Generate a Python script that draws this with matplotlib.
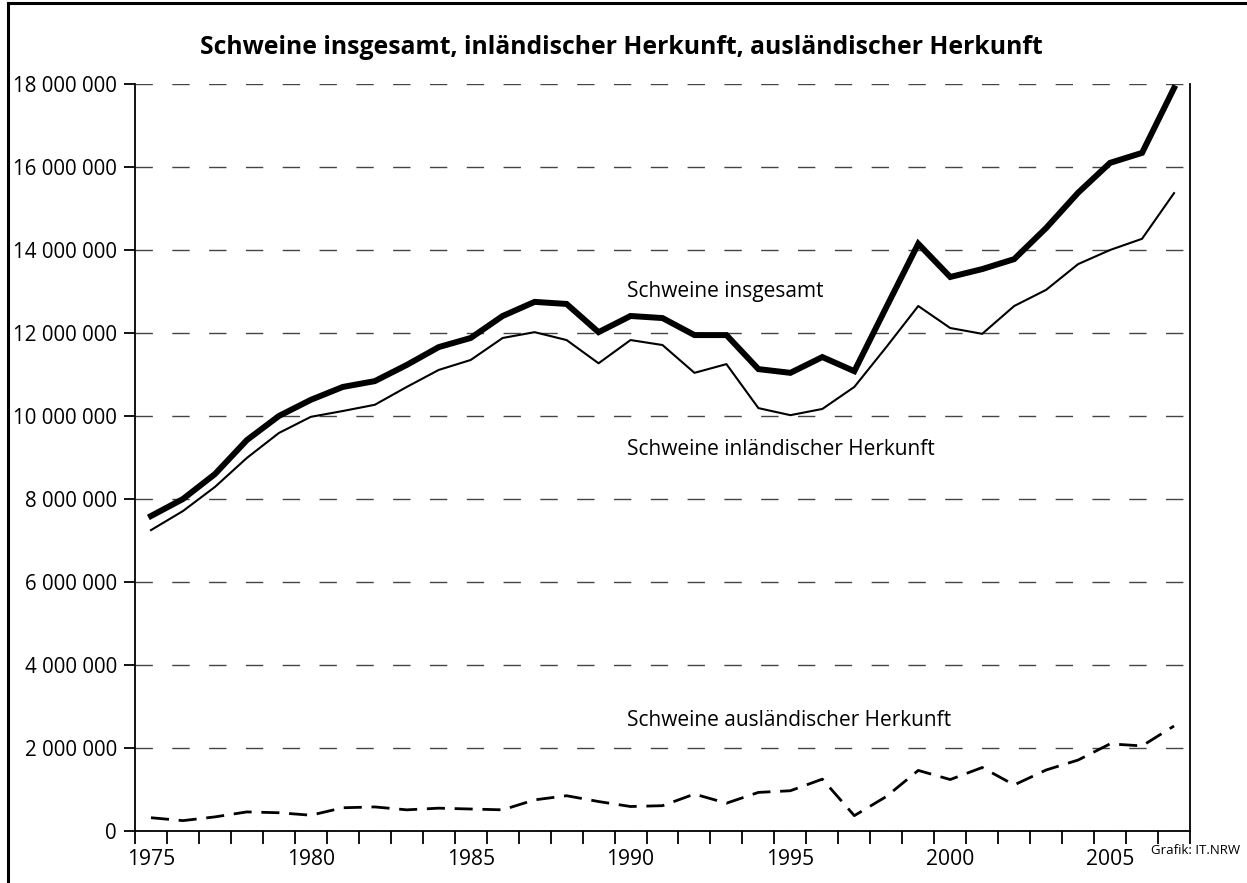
import matplotlib.pyplot as plt
from matplotlib.ticker import FuncFormatter, MultipleLocator
import numpy as np

years = list(range(1975, 2008))

insgesamt = [7.59, 8.00, 8.60, 9.42, 10.00, 10.39, 10.70, 10.84, 11.23, 11.66,
             11.88, 12.41, 12.75, 12.70, 12.02, 12.41, 12.36, 11.95, 11.95, 11.13,
             11.04, 11.42, 11.08, 12.62, 14.15, 13.35, 13.54, 13.78, 14.53, 15.38,
             16.10, 16.34, 17.90]
inland = [7.25, 7.71, 8.29, 8.99, 9.59, 9.98, 10.12, 10.27, 10.70, 11.11,
          11.35, 11.88, 12.02, 11.83, 11.27, 11.83, 11.71, 11.04, 11.25, 10.19,
          10.02, 10.17, 10.70, 11.66, 12.65, 12.12, 11.98, 12.65, 13.04, 13.66,
          14.00, 14.27, 15.37]
ausland = [0.32, 0.25, 0.34, 0.46, 0.44, 0.38, 0.56, 0.58, 0.51, 0.55,
           0.53, 0.51, 0.75, 0.85, 0.71, 0.59, 0.61, 0.89, 0.67, 0.93,
           0.97, 1.25, 0.37, 0.83, 1.46, 1.24, 1.53, 1.11, 1.47, 1.71,
           2.10, 2.05, 2.53]

label_years = [1975, 1980, 1985, 1990, 1995, 2000, 2005]

plt.rcParams['font.family'] = ['Open Sans', 'DejaVu Sans']

fig = plt.figure(figsize=(12.47, 8.83), dpi=100)
ax = fig.add_axes([135 / 1247, 1 - 831 / 883, (1190 - 135) / 1247, (831 - 84) / 883])

x = np.arange(len(years))
m = 1e6
ax.plot(x, np.array(insgesamt) * m, color='black', lw=4.3, solid_joinstyle='miter')
ax.plot(x, np.array(inland) * m, color='black', lw=1.5)
ax.plot(x, np.array(ausland) * m, color='black', lw=2.0, dashes=(6.5, 3.5))

ax.set_xlim(-0.5, len(years) - 0.5)
ax.set_ylim(0, 18e6)

# category axis: ticks between the years, labels every five years
ax.set_xticks(np.arange(-0.5, len(years), 1.0))
ax.set_xticklabels([])
ax.set_xticks([years.index(y) for y in label_years], minor=True)
ax.set_xticklabels([str(y) for y in label_years], minor=True, fontsize=15.2)
ax.tick_params(axis='x', which='major', direction='out', length=9, width=1.3)
ax.tick_params(axis='x', which='minor', length=0, pad=13)

ax.yaxis.set_major_locator(MultipleLocator(2e6))
ax.yaxis.set_major_formatter(FuncFormatter(lambda v, p: f'{int(v):,}'.replace(',', ' ')))
ax.tick_params(axis='y', direction='out', length=8, width=1.3, labelsize=14.8, pad=5)

ax.grid(axis='y', color='#444444', lw=1.0, dashes=(12.5, 14))
ax.set_axisbelow(True)

for s in ['left', 'bottom', 'right']:
    ax.spines[s].set_linewidth(1.3)
ax.spines['top'].set_visible(False)

ax.text(14.9, 13.0e6, 'Schweine insgesamt', fontsize=15, va='center')
ax.text(14.9, 9.2e6, 'Schweine inländischer Herkunft', fontsize=15, va='center')
ax.text(14.9, 2.67e6, 'Schweine ausländischer Herkunft', fontsize=15, va='center')

fig.text(621 / 1247, 1 - 47 / 883, 'Schweine insgesamt, inländischer Herkunft, ausländischer Herkunft',
         fontsize=17.8, fontweight='bold', ha='center', va='center')
fig.text(1240 / 1247, 1 - 850 / 883, 'Grafik: IT.NRW', fontsize=9.5, ha='right', va='center')

# frame lines at top and left of the picture
fig.add_artist(plt.Line2D([8 / 1247, 1], [1 - 3 / 883, 1 - 3 / 883], color='black', lw=2.2))
fig.add_artist(plt.Line2D([8 / 1247, 8 / 1247], [0, 1 - 3 / 883], color='black', lw=2.2))

fig.savefig('out.png', dpi=100)
